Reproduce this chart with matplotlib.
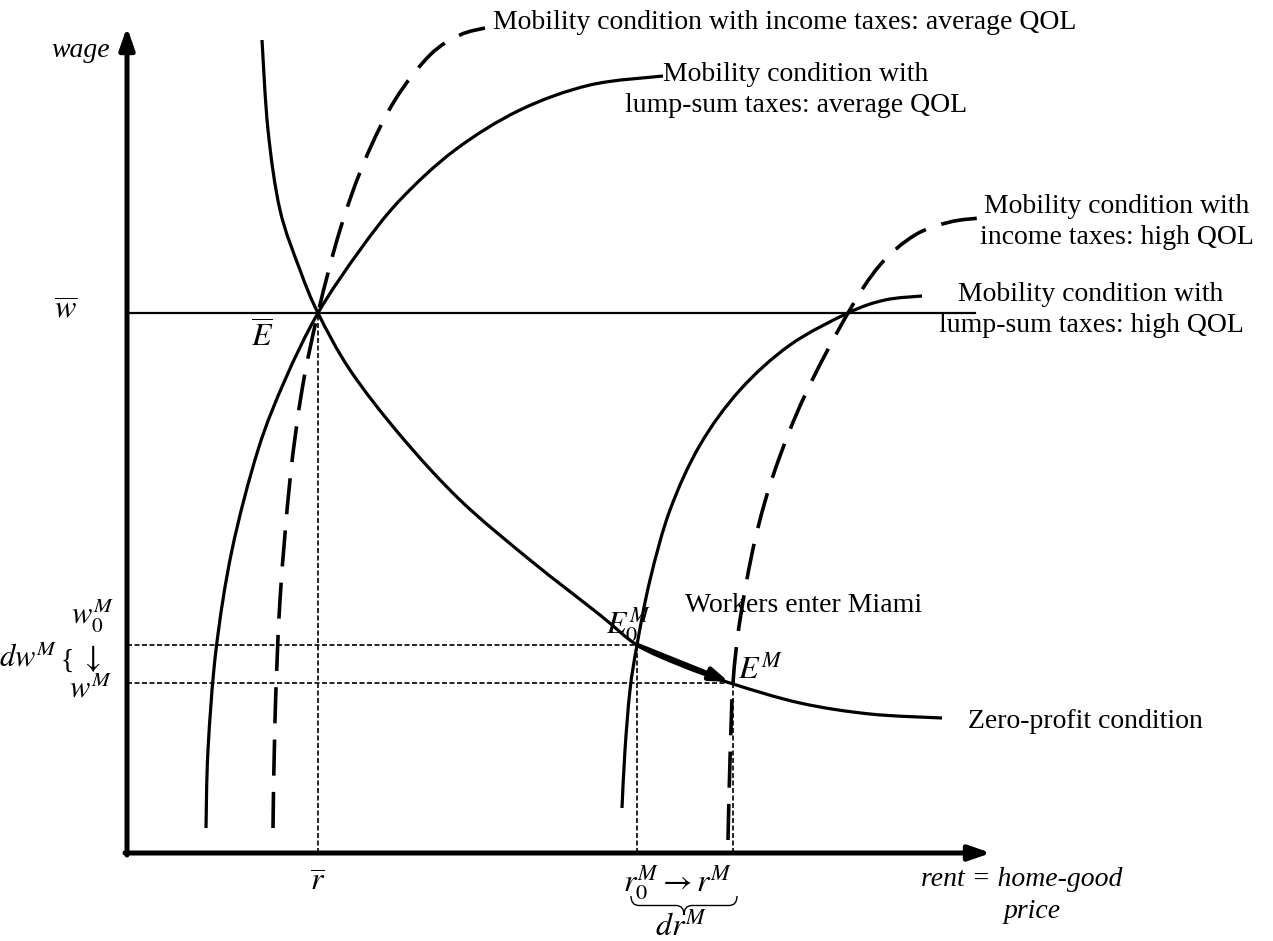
import matplotlib
matplotlib.use('Agg')
import matplotlib.pyplot as plt
from matplotlib.path import Path
from matplotlib.patches import PathPatch
import numpy as np

plt.rcParams['font.family'] = ['Liberation Serif', 'DejaVu Serif']
plt.rcParams['mathtext.fontset'] = 'stix'

# diagram units: x = rent, y = wage (origin at axes corner)
zp_x = [135, 141, 153, 173, 191, 223, 273, 333, 403, 473, 510, 553, 603, 673, 743, 815]
zp_y = [813, 723, 643, 583, 540, 483, 418, 353, 293, 238, 208, 188, 170, 150, 139, 135]

lump_avg_x = [79, 81, 89, 105, 131, 158, 191, 233, 273, 328, 393, 463, 536]
lump_avg_y = [25, 103, 203, 303, 403, 473, 540, 603, 653, 703, 743, 768, 777]

inc_avg_x = [146, 148, 153, 163, 175, 191, 213, 238, 268, 303, 333, 358]
inc_avg_y = [25, 133, 253, 373, 463, 540, 623, 693, 753, 798, 818, 825]

lump_high_x = [495, 498, 503, 510, 523, 543, 573, 613, 663, 721, 758, 795]
lump_high_y = [45, 103, 163, 208, 273, 343, 408, 463, 508, 540, 553, 557]

inc_high_x = [601, 603, 606, 613, 628, 648, 678, 721, 753, 788, 823, 853]
inc_high_y = [13, 93, 170, 233, 313, 383, 458, 540, 588, 618, 631, 635]

w_bar, r_bar = 540, 191
w0, r0 = 208, 510
wM, rM = 170, 606


def smooth_curve(ax, xs, ys, **kw):
    # Catmull-Rom through the read points, drawn as cubic Bezier segments
    p = np.column_stack([xs, ys]).astype(float)
    ext = np.vstack([p[0], p, p[-1]])
    verts = [tuple(p[0])]
    codes = [Path.MOVETO]
    for i in range(1, len(ext) - 2):
        c1 = ext[i] + (ext[i + 1] - ext[i - 1]) / 6
        c2 = ext[i + 1] - (ext[i + 2] - ext[i]) / 6
        verts += [tuple(c1), tuple(c2), tuple(ext[i + 1])]
        codes += [Path.CURVE4] * 3
    ax.add_patch(PathPatch(Path(verts, codes), fill=False, **kw))


fig = plt.figure(figsize=(12.73, 9.41), dpi=100)
ax = fig.add_axes([0, 0, 1, 1])
ax.set_xlim(-127, 1146)
ax.set_ylim(-88, 853)
ax.axis('off')

# axes with arrows
head = '-|>,head_length=1.3,head_width=0.45'
ax.annotate('', xy=(0, 826), xytext=(0, -2),
            arrowprops=dict(arrowstyle=head, lw=3.6, color='black', shrinkA=0, shrinkB=0))
ax.annotate('', xy=(864, 0), xytext=(-2, 0),
            arrowprops=dict(arrowstyle=head, lw=3.6, color='black', shrinkA=0, shrinkB=0))

# w-bar line
ax.plot([0, 848], [w_bar, w_bar], color='black', lw=1.6)

# curves
solid = dict(edgecolor='black', lw=2.3, capstyle='butt')
dashed = dict(edgecolor='black', lw=2.6, linestyle=(0, (10, 4.5)), capstyle='butt')
smooth_curve(ax, zp_x, zp_y, **solid)
smooth_curve(ax, lump_avg_x, lump_avg_y, **solid)
smooth_curve(ax, lump_high_x, lump_high_y, **solid)
smooth_curve(ax, inc_avg_x, inc_avg_y, **dashed)
smooth_curve(ax, inc_high_x, inc_high_y, **dashed)

# dotted guides
dot = dict(color='black', lw=1.2, dashes=(3, 1.5))
ax.plot([r_bar, r_bar], [0, w_bar], **dot)
ax.plot([0, r0], [w0, w0], **dot)
ax.plot([0, rM], [wM, wM], **dot)
ax.plot([r0, r0], [0, w0], **dot)
ax.plot([rM, rM], [0, wM], **dot)

# movement arrow
ax.annotate('', xy=(rM - 4, wM + 1), xytext=(r0, w0),
            arrowprops=dict(arrowstyle='-|>,head_length=1.1,head_width=0.38', lw=3.4, color='black',
                            shrinkA=0, shrinkB=0))

fs = 20
ms = 23
ax.text(-17, 803, 'wage', style='italic', fontsize=fs, ha='right', va='center')
ax.text(-61, w_bar + 2, r'$\overline{w}$', fontsize=ms, ha='center', va='center')
ax.text(r_bar - 56, 516, r'$\overline{E}$', fontsize=ms, ha='center', va='center')
ax.text(-35, 237, r'$w_0^M$', fontsize=22, ha='center', va='center')
ax.text(-70, 194, r'$dw^M$', fontsize=22, ha='right', va='center')
ax.text(-60, 192, '{', fontsize=fs, ha='center', va='center')
ax.text(-36, 194, r'$\downarrow$', fontsize=ms, ha='center', va='center')
ax.text(-37, 163, r'$w^M$', fontsize=22, ha='center', va='center')
ax.text(r_bar, -30, r'$\overline{r}$', fontsize=ms, ha='center', va='center')
ax.text(551, -30, r'$r_0^M \rightarrow r^M$', fontsize=ms, ha='center', va='center')
ax.text(554, -74, r'$dr^M$', fontsize=ms, ha='center', va='center')

# brace under r0 -> rM
bx0, bx1, byt, byb = r0 - 6, rM + 4, -43, -62
bm = (bx0 + bx1) / 2
bmid = (byt + byb) / 2
verts = [(bx0, byt), (bx0, bmid), (bx0 + 8, bmid), (bm - 8, bmid), (bm, bmid), (bm, byb),
         (bm, bmid), (bm + 8, bmid), (bx1 - 8, bmid), (bx1, bmid), (bx1, byt)]
codes = [Path.MOVETO, Path.CURVE3, Path.CURVE3, Path.LINETO, Path.CURVE3, Path.CURVE3,
         Path.CURVE3, Path.CURVE3, Path.LINETO, Path.CURVE3, Path.CURVE3]
ax.add_patch(PathPatch(Path(verts, codes), fill=False, lw=1.0, color='black'))

ax.text(895, -27, 'rent = home-good', style='italic', fontsize=fs, ha='center', va='center')
ax.text(905, -59, 'price', style='italic', fontsize=fs, ha='center', va='center')

ax.text(366, 831, 'Mobility condition with income taxes: average QOL', fontsize=fs, ha='left', va='center')
ax.text(669, 763, 'Mobility condition with\nlump-sum taxes: average QOL', fontsize=fs,
        ha='center', va='center', linespacing=1.3)
ax.text(990, 631, 'Mobility condition with\nincome taxes: high QOL', fontsize=fs,
        ha='center', va='center', linespacing=1.3)
ax.text(964, 543, 'Mobility condition with\nlump-sum taxes: high QOL', fontsize=fs,
        ha='center', va='center', linespacing=1.3)
ax.text(r0 - 9, 228, r'$E_0^M$', fontsize=ms, ha='center', va='center')
ax.text(558, 248, 'Workers enter Miami', fontsize=fs, ha='left', va='center')
ax.text(633, 183, r'$E^M$', fontsize=ms, ha='center', va='center')
ax.text(841, 131, 'Zero-profit condition', fontsize=fs, ha='left', va='center')

fig.savefig('out.png', dpi=100)
